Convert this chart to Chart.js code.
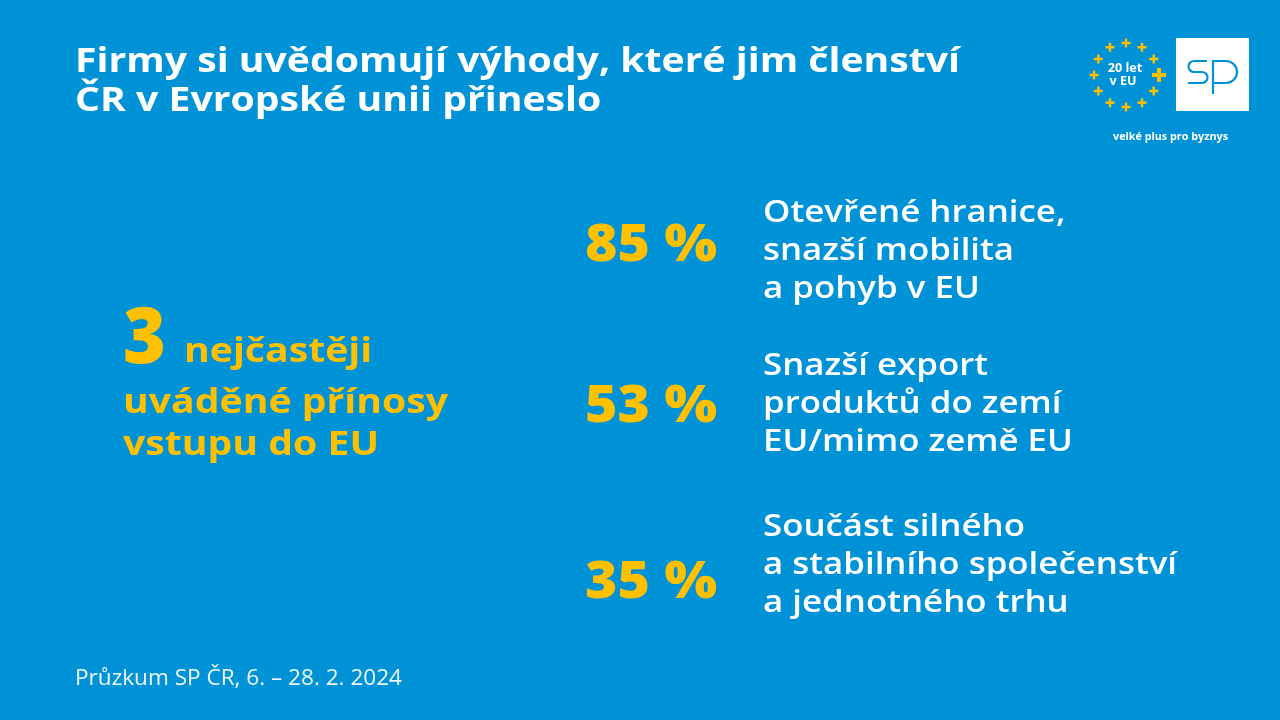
<!DOCTYPE html>
<html><head><meta charset="utf-8">
<script src="https://cdn.jsdelivr.net/npm/chart.js@4/dist/chart.umd.min.js"></script>
<style>html,body{margin:0;padding:0;background:#0092d6;overflow:hidden}canvas{display:block}</style>
</head><body>
<canvas id="c" width="1280" height="720"></canvas>
<script>
// ---- data ----
const categories = [
  "Otevřené hranice, snazší mobilita a pohyb v EU",
  "Snazší export produktů do zemí EU/mimo země EU",
  "Součást silného a stabilního společenství a jednotného trhu"
];
const labelLines = [
  ["Otevřené hranice,", "snazší mobilita", "a pohyb v EU"],
  ["Snazší export", "produktů do zemí", "EU/mimo země EU"],
  ["Součást silného", "a stabilního společenství", "a jednotného trhu"]
];
const shares = [85, 53, 35];
const titleLines = ["Firmy si uvědomují výhody, které jim členství", "ČR v Evropské unii přineslo"];
const topCount = "3";
const leftLines = ["nejčastěji", "uváděné přínosy", "vstupu do EU"];
const sourceNote = "Průzkum SP ČR, 6. – 28. 2. 2024";
const logoLines = ["20 let", "v EU"];
const tagline = "velké plus pro byznys";

// ---- style ----
const BG = "#0092d6", YEL = "#ffc000", WHITE = "#ffffff";
const FF = "'Open Sans', 'DejaVu Sans', sans-serif";
const pctBaseNudge = [16, 13, 26];
const labelBaseNudge = [-23, -34, -36];

function scaleFor(ctx, font, text, w) { ctx.font = font; return w / ctx.measureText(text).width; }
function txt(ctx, text, x, y, font, color, sx, align) {
  ctx.save(); ctx.font = font; ctx.fillStyle = color; ctx.textBaseline = "alphabetic"; ctx.textAlign = "left";
  const w = ctx.measureText(text).width * sx;
  let x0 = x; if (align === "center") x0 = x - w / 2; else if (align === "right") x0 = x - w;
  ctx.translate(x0, y); ctx.scale(sx, 1); ctx.fillText(text, 0, 0); ctx.restore();
}
function plus(ctx, cx, cy, r, lw, color) {
  ctx.save(); ctx.strokeStyle = color; ctx.lineWidth = lw; ctx.lineCap = "butt";
  ctx.beginPath(); ctx.moveTo(cx - r, cy); ctx.lineTo(cx + r, cy); ctx.moveTo(cx, cy - r); ctx.lineTo(cx, cy + r); ctx.stroke(); ctx.restore();
}

const decor = {
  id: "decor",
  beforeDraw(chart) {
    const ctx = chart.ctx;
    ctx.save(); ctx.fillStyle = BG; ctx.fillRect(0, 0, chart.width, chart.height); ctx.restore();
    // title
    const tf = "700 34px " + FF;
    const ts = scaleFor(ctx, tf, titleLines[0], 885);
    txt(ctx, titleLines[0], 75, 72, tf, WHITE, ts);
    txt(ctx, titleLines[1], 75, 111, tf, WHITE, ts);
    // left block
    const bf = "700 34px " + FF;
    const bs = scaleFor(ctx, bf, leftLines[1], 325);
    const nf = "800 78px " + FF;
    const ns = scaleFor(ctx, nf, topCount, 43);
    txt(ctx, topCount, 123, 363, nf, YEL, ns);
    txt(ctx, leftLines[0], 184, 362, bf, YEL, bs);
    txt(ctx, leftLines[1], 123, 413, bf, YEL, bs);
    txt(ctx, leftLines[2], 123, 455, bf, YEL, bs);
    // footer
    const ff = "400 21px " + FF;
    txt(ctx, sourceNote, 75, 685, ff, "#eef6fb", scaleFor(ctx, ff, sourceNote, 327));
    // logo: ring of plus signs
    const cx = 1126, cy = 75, R = 32;
    for (let k = 0; k < 12; k++) {
      const a = k * Math.PI / 6;
      if (k === 0) plus(ctx, cx + R + 1, cy, 7, 4, YEL);
      else plus(ctx, cx + R * Math.cos(a), cy + R * Math.sin(a), 4.5, 2.4, YEL);
    }
    const lf = "700 12px " + FF;
    txt(ctx, logoLines[0], 1125, 72, lf, WHITE, 1.05, "center");
    txt(ctx, logoLines[1], 1123, 85, lf, WHITE, 1.05, "center");
    // sp square
    ctx.save();
    ctx.fillStyle = WHITE; ctx.fillRect(1176, 38, 73, 73);
    ctx.strokeStyle = BG; ctx.lineWidth = 2.2; ctx.lineCap = "butt";
    ctx.beginPath();
    ctx.moveTo(1207, 61); ctx.lineTo(1194, 61);
    ctx.arc(1194, 66.5, 5.5, -Math.PI / 2, Math.PI / 2, true);
    ctx.lineTo(1202, 72);
    ctx.arc(1202, 77.5, 5.5, -Math.PI / 2, Math.PI / 2, false);
    ctx.lineTo(1188, 83);
    ctx.stroke();
    ctx.beginPath();
    ctx.moveTo(1213, 94); ctx.lineTo(1213, 61); ctx.lineTo(1226, 61);
    ctx.arc(1226, 72, 11, -Math.PI / 2, Math.PI / 2, false);
    ctx.lineTo(1213, 83);
    ctx.stroke();
    ctx.restore();
    const gf = "700 10px " + FF;
    txt(ctx, tagline, 1113, 140, gf, WHITE, scaleFor(ctx, gf, tagline, 115));
  },
  afterDatasetsDraw(chart) {
    const ctx = chart.ctx;
    const meta = chart.getDatasetMeta(0);
    const pf = "800 52px " + FF;
    const ps = scaleFor(ctx, pf, shares[0] + " %", 132);
    const lf = "600 31px " + FF;
    const ls = scaleFor(ctx, lf, labelLines[2][1], 414);
    meta.data.forEach((el, i) => {
      const y = el.y;
      txt(ctx, shares[i] + " %", 651, y + pctBaseNudge[i], pf, YEL, ps, "center");
      labelLines[i].forEach((ln, j) => {
        txt(ctx, ln, 763, y + labelBaseNudge[i] + j * 38, lf, WHITE, ls);
      });
    });
  }
};

new Chart(document.getElementById("c"), {
  type: "bar",
  data: { labels: categories, datasets: [{ data: shares, backgroundColor: "rgba(0,0,0,0)", borderWidth: 0 }] },
  options: {
    indexAxis: "y", responsive: false, animation: false, devicePixelRatio: 1,
    layout: { padding: { left: 560, right: 100, top: 163, bottom: 66 } },
    scales: { x: { display: false, min: 0, max: 100 }, y: { display: false, offset: true } },
    plugins: { legend: { display: false }, tooltip: { enabled: false }, title: { display: false } }
  },
  plugins: [decor]
});
</script>
</body></html>
